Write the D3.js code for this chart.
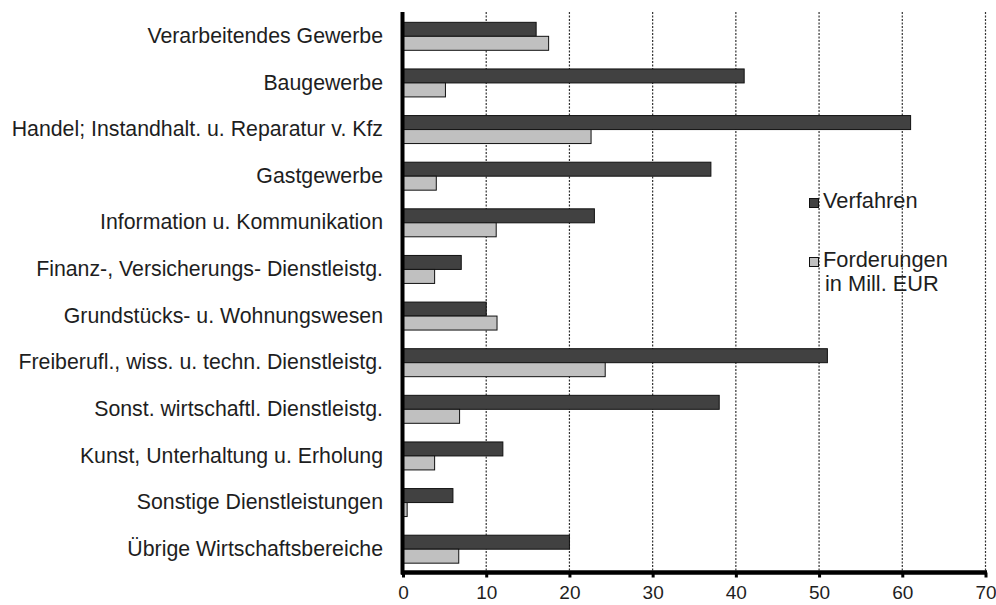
<!DOCTYPE html>
<html>
<head>
<meta charset="utf-8">
<script src="https://cdn.jsdelivr.net/npm/d3@7"></script>
<style>
  body { margin: 0; background: #fff; }
  text { font-family: Arial, "Liberation Sans", sans-serif; }
</style>
</head>
<body>
<div id="chart"></div>
<script>
const categories = [
  "Verarbeitendes Gewerbe",
  "Baugewerbe",
  "Handel; Instandhalt. u. Reparatur v. Kfz",
  "Gastgewerbe",
  "Information u. Kommunikation",
  "Finanz-, Versicherungs- Dienstleistg.",
  "Grundstücks- u. Wohnungswesen",
  "Freiberufl., wiss. u. techn. Dienstleistg.",
  "Sonst. wirtschaftl. Dienstleistg.",
  "Kunst, Unterhaltung u. Erholung",
  "Sonstige Dienstleistungen",
  "Übrige Wirtschaftsbereiche"
];
const verfahren = [16, 41, 61, 37, 23, 7, 10, 51, 38, 12, 6, 20];
const forderungen = [17.5, 5.1, 22.6, 4, 11.2, 3.8, 11.3, 24.3, 6.8, 3.8, 0.5, 6.7];
const xTicks = [0, 10, 20, 30, 40, 50, 60, 70];
const seriesNames = ["Verfahren", "Forderungen"];
const seriesColors = ["#414141", "#c0c0c0"];

const WIDTH = 996;
const HEIGHT = 605;
const PLOT_LEFT = 403, PLOT_RIGHT = 985.5, PLOT_TOP = 13, PLOT_BOTTOM = 572.5;

const svg = d3
  .select("#chart")
  .append("svg")
  .attr("width", WIDTH)
  .attr("height", HEIGHT);

const x = d3.scaleLinear().domain([0, 70]).range([PLOT_LEFT, PLOT_RIGHT]);
const y = d3
  .scaleBand()
  .domain(categories)
  .range([PLOT_TOP, PLOT_BOTTOM])
  .paddingInner(0.4)
  .paddingOuter(0.2);
const ySub = d3
  .scaleBand()
  .domain(seriesNames)
  .range([0, y.bandwidth()]);

// dashed gridlines
svg
  .selectAll("line.grid")
  .data(xTicks.slice(1))
  .enter()
  .append("line")
  .attr("class", "grid")
  .attr("x1", (d) => x(d))
  .attr("x2", (d) => x(d))
  .attr("y1", PLOT_TOP - 1)
  .attr("y2", PLOT_BOTTOM)
  .style("stroke", "#333")
  .style("stroke-width", 1.2)
  .style("stroke-dasharray", "2,1.5");

// bars
const rows = categories.map((c, i) => ({
  cat: c,
  values: [verfahren[i], forderungen[i]]
}));

const groups = svg
  .selectAll("g.row")
  .data(rows)
  .enter()
  .append("g")
  .attr("class", "row")
  .attr("transform", (d) => "translate(0," + y(d.cat) + ")");

groups
  .selectAll("rect")
  .data((d) => d.values.map((v, j) => ({ v: v, s: seriesNames[j], j: j })))
  .enter()
  .append("rect")
  .attr("x", x(0))
  .attr("y", (d) => ySub(d.s))
  .attr("width", (d) => x(d.v) - x(0))
  .attr("height", ySub.bandwidth())
  .style("fill", (d) => seriesColors[d.j])
  .style("stroke", "#111")
  .style("stroke-width", 1);

// category labels
svg
  .selectAll("text.cat")
  .data(categories)
  .enter()
  .append("text")
  .attr("class", "cat")
  .attr("x", PLOT_LEFT - 20)
  .attr("y", (d) => y(d) + y.bandwidth() / 2)
  .attr("dy", "0.31em")
  .attr("text-anchor", "end")
  .style("font-size", "21.3px")
  .style("fill", "#1e1e1e")
  .text((d) => d);

// x axis
const xAxis = svg
  .append("g")
  .attr("transform", "translate(0," + PLOT_BOTTOM + ")")
  .call(d3.axisBottom(x).tickValues(xTicks).tickSize(5).tickPadding(8));
xAxis.select(".domain").remove();
xAxis.selectAll(".tick line").style("stroke", "#000").style("stroke-width", 3);
xAxis
  .selectAll(".tick text")
  .style("font-size", "19px")
  .style("font-family", "Arial, 'Liberation Sans', sans-serif")
  .style("fill", "#1e1e1e");

svg
  .append("line")
  .attr("x1", PLOT_LEFT - 2)
  .attr("x2", PLOT_RIGHT + 1.5)
  .attr("y1", PLOT_BOTTOM)
  .attr("y2", PLOT_BOTTOM)
  .style("stroke", "#000")
  .style("stroke-width", 4.5);
svg
  .append("line")
  .attr("x1", PLOT_LEFT - 0.5)
  .attr("x2", PLOT_LEFT - 0.5)
  .attr("y1", PLOT_TOP - 1)
  .attr("y2", PLOT_BOTTOM + 2)
  .style("stroke", "#000")
  .style("stroke-width", 4);

// legend
const legendItems = [
  { name: "Verfahren", lines: ["Verfahren"], y: 198, color: seriesColors[0] },
  { name: "Forderungen", lines: ["Forderungen", "in Mill. EUR"], y: 257, color: seriesColors[1] }
];
const legend = svg
  .selectAll("g.legend")
  .data(legendItems)
  .enter()
  .append("g")
  .attr("class", "legend")
  .attr("transform", (d) => "translate(809," + d.y + ")");
legend
  .append("rect")
  .attr("x", 0.5)
  .attr("y", 0.5)
  .attr("width", 9)
  .attr("height", 9)
  .style("fill", (d) => d.color)
  .style("stroke", "#111")
  .style("stroke-width", 1);
legend
  .selectAll("text")
  .data((d) => d.lines)
  .enter()
  .append("text")
  .attr("x", (d, i) => (i === 0 ? 14 : 16))
  .attr("y", (d, i) => 10 + i * 24)
  .style("font-size", "21.8px")
  .style("fill", "#1e1e1e")
  .text((d) => d);
</script>
</body>
</html>
